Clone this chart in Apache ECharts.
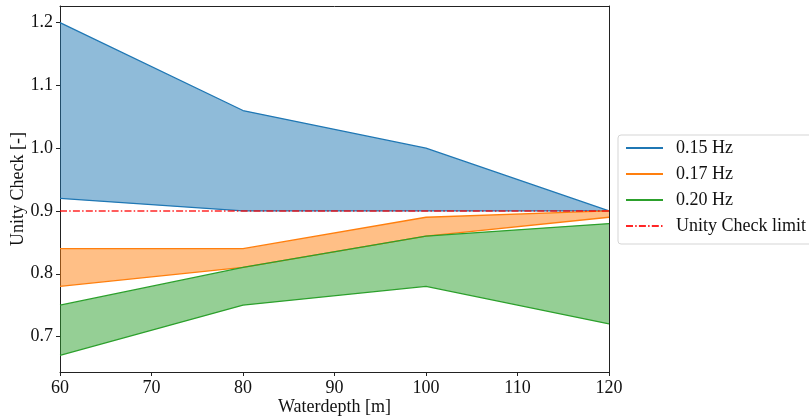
<!DOCTYPE html>
<html>
<head>
<meta charset="utf-8">
<script src="https://cdn.jsdelivr.net/npm/echarts@6/dist/echarts.min.js"></script>
<style>
  html, body { margin: 0; padding: 0; background: #fff; }
  #chart { width: 809px; height: 419px; }
</style>
</head>
<body>
<div id="chart"></div>
<script>
// Water depths [m]
const depths = [60, 80, 100, 120];

// Unity check envelopes per wave frequency (lower / upper bound)
const low015 = [0.92, 0.90, 0.90, 0.90];
const high015 = [1.20, 1.06, 1.00, 0.90];
const low017 = [0.78, 0.81, 0.86, 0.89];
const high017 = [0.84, 0.84, 0.89, 0.90];
const low020 = [0.67, 0.75, 0.78, 0.72];
const high020 = [0.75, 0.81, 0.86, 0.88];

// Design limit
const ucLimit = 0.9;

// Axis ticks
const xTicks = [60, 70, 80, 90, 100, 110, 120];
const yTicks = [0.7, 0.8, 0.9, 1.0, 1.1, 1.2];

const FONT = '"Liberation Serif", "DejaVu Serif", serif';
const AXIS_COLOR = '#222';
const FS = 18;

const bands = [
  { name: '0.15 Hz', color: '#1f77b4', fill: 'rgba(31,119,180,0.5)', lo: low015, hi: high015 },
  { name: '0.17 Hz', color: '#ff7f0e', fill: 'rgba(255,127,14,0.5)', lo: low017, hi: high017 },
  { name: '0.20 Hz', color: '#2ca02c', fill: 'rgba(44,160,44,0.5)', lo: low020, hi: high020 }
];

const series = [];

// shaded envelopes: one polygon per band, lower bound forward, upper bound back
bands.forEach((b, i) => {
  series.push({
    type: 'custom',
    name: b.name + ' band',
    data: depths.map((x, k) => [x, b.lo[k], b.hi[k]]),
    renderItem: (params, api) => {
      if (params.dataIndex !== 0) return null;
      const pts = [];
      depths.forEach((x, k) => pts.push(api.coord([x, b.lo[k]])));
      for (let k = depths.length - 1; k >= 0; k--) pts.push(api.coord([depths[k], b.hi[k]]));
      return { type: 'polygon', shape: { points: pts }, style: { fill: b.fill }, z2: 0 };
    },
    encode: { x: 0, y: [1, 2] },
    z: 1,
    silent: true,
    animation: false
  });
});

// envelope boundary lines
bands.forEach((b, i) => {
  series.push({
    type: 'line',
    name: b.name + ' min',
    data: depths.map((x, k) => [x, b.lo[k]]),
    symbol: 'none',
    lineStyle: { color: b.color, width: 1.3 },
    itemStyle: { color: b.color },
    z: 3 + i,
    animation: false
  });
  series.push({
    type: 'line',
    name: b.name,
    data: depths.map((x, k) => [x, b.hi[k]]),
    symbol: 'none',
    lineStyle: { color: b.color, width: 1.3 },
    itemStyle: { color: b.color },
    z: 3 + i,
    animation: false
  });
});

series.push({
  type: 'line',
  name: 'Unity Check limit',
  data: [[depths[0], ucLimit], [depths[depths.length - 1], ucLimit]],
  symbol: 'none',
  lineStyle: { color: 'rgba(255,0,0,0.85)', width: 1.5, type: [7, 2.2, 1.5, 2.2] },
  itemStyle: { color: 'rgba(255,0,0,0.85)' },
  z: 10,
  animation: false
});

const chart = echarts.init(document.getElementById('chart'), null, { renderer: 'canvas' });

chart.setOption({
  backgroundColor: '#fff',
  animation: false,
  grid: { left: 60, right: 200, top: 6, bottom: 47, containLabel: false, outerBoundsMode: 'none' },
  legend: {
    orient: 'vertical',
    left: 618,
    top: 135,
    data: bands.map(b => b.name).concat(['Unity Check limit']),
    itemWidth: 37,
    itemHeight: 20,
    itemGap: 6,
    padding: [3, 30, 8, 7],
    backgroundColor: '#fff',
    borderColor: '#d5d5d5',
    borderWidth: 1,
    borderRadius: 3,
    selectedMode: false,
    itemStyle: { opacity: 0 },
    textStyle: { fontFamily: FONT, fontSize: FS, color: '#111', lineHeight: 20, padding: [0, 0, 0, 8] }
  },
  xAxis: [{
    type: 'value',
    min: 60,
    max: 120,
    interval: 10,
    name: 'Waterdepth [m]',
    nameLocation: 'middle',
    nameGap: 26,
    nameMoveOverlap: false,
    nameTextStyle: { fontFamily: FONT, fontSize: FS, color: '#111' },
    axisLine: { show: true, onZero: false, lineStyle: { color: AXIS_COLOR, width: 1 } },
    axisTick: { show: true, inside: false, length: 4, lineStyle: { color: AXIS_COLOR } },
    axisLabel: { fontFamily: FONT, fontSize: FS, color: '#111', margin: 7,
      customValues: xTicks },
    splitLine: { show: false }
  }, {
    type: 'value', position: 'top', min: 60, max: 120,
    axisLine: { show: true, onZero: false, lineStyle: { color: AXIS_COLOR, width: 1 } },
    axisTick: { show: false }, axisLabel: { show: false }, splitLine: { show: false }
  }],
  yAxis: [{
    type: 'value',
    min: 0.6435,
    max: 1.2265,
    name: 'Unity Check [-]',
    nameLocation: 'middle',
    nameGap: 33,
    nameMoveOverlap: false,
    nameTextStyle: { fontFamily: FONT, fontSize: FS, color: '#111' },
    axisLine: { show: true, onZero: false, lineStyle: { color: AXIS_COLOR, width: 1 } },
    axisTick: { show: true, inside: false, length: 4, lineStyle: { color: AXIS_COLOR }, customValues: yTicks },
    axisLabel: { fontFamily: FONT, fontSize: FS, color: '#111', margin: 7,
      customValues: yTicks, formatter: v => v.toFixed(1) },
    splitLine: { show: false }
  }, {
    type: 'value', position: 'right', min: 0.6435, max: 1.2265,
    axisLine: { show: true, onZero: false, lineStyle: { color: AXIS_COLOR, width: 1 } },
    axisTick: { show: false }, axisLabel: { show: false }, splitLine: { show: false }
  }],
  series: series
});
</script>
</body>
</html>
